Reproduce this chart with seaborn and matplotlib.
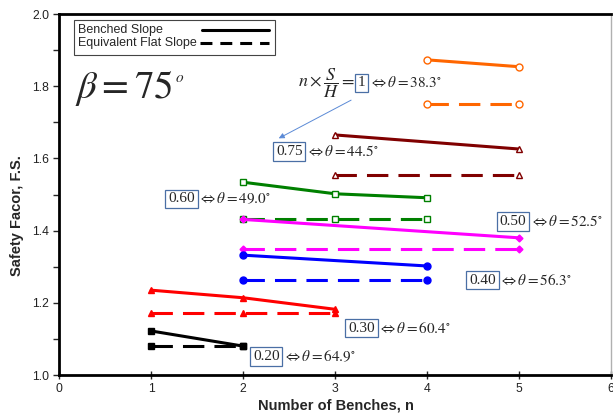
import matplotlib
matplotlib.use("Agg")
import matplotlib.pyplot as plt
from matplotlib.lines import Line2D
from matplotlib.patches import Rectangle
from matplotlib.ticker import MultipleLocator, FormatStrFormatter
import numpy as np
import pandas as pd
import seaborn as sns

# Safety factor vs number of benches, beta = 75 deg
ratios = ["1", "0.75", "0.60", "0.50", "0.40", "0.30", "0.20"]
thetas = ["38.3", "44.5", "49.0", "52.5", "56.3", "60.4", "64.9"]
colors = ["#FF6600", "#800000", "#008000", "#FF00FF", "#0000FF", "#FF0000", "#000000"]
markers = ["o", "^", "s", "D", "o", "^", "s"]
filled = [False, False, False, True, True, True, True]

benched_n = [[4, 5], [3, 5], [2, 3, 4], [2, 5], [2, 4], [1, 2, 3], [1, 2]]
benched_fs = [[1.873, 1.854], [1.665, 1.626], [1.534, 1.502, 1.491],
              [1.431, 1.380], [1.332, 1.302], [1.235, 1.214, 1.182], [1.122, 1.080]]
flat_n = [[4, 5], [3, 5], [2, 3, 4], [2, 5], [2, 4], [1, 2, 3], [1, 2]]
flat_fs = [[1.752, 1.752], [1.554, 1.554], [1.432, 1.432, 1.432],
           [1.348, 1.348], [1.262, 1.262], [1.171, 1.171, 1.171], [1.080, 1.080]]

# label positions (data coords) for the boxed S/H ratios
label_pos = [(3.286, 1.809), (2.501, 1.619), (1.330, 1.488), (4.931, 1.425),
             (4.602, 1.263), (3.287, 1.130), (2.253, 1.051)]

sns.set_style("ticks")
plt.rcParams["font.family"] = ["Liberation Sans", "DejaVu Sans"]
plt.rcParams["mathtext.fontset"] = "stix"

fig = plt.figure(figsize=(6.13, 4.17), dpi=100)
ax = fig.add_axes([0.0965, 0.1007, 0.9005, 0.8657])

for i in range(len(ratios)):
    mfc = colors[i] if filled[i] else "white"
    ms = 3.5 if markers[i] == "D" else 5
    sns.lineplot(x=benched_n[i], y=benched_fs[i], ax=ax, color=colors[i],
                 marker=markers[i], markersize=ms, markerfacecolor=mfc,
                 markeredgecolor=colors[i], markeredgewidth=1.0,
                 linewidth=2.2, linestyle="-", errorbar=None)
    sns.lineplot(x=flat_n[i], y=flat_fs[i], ax=ax, color=colors[i],
                 marker=markers[i], markersize=ms, markerfacecolor=mfc,
                 markeredgecolor=colors[i], markeredgewidth=1.0,
                 linewidth=2.2, dashes=(7, 3.3), errorbar=None)

ax.set_xlim(0, 6)
ax.set_ylim(1.0, 2.0)
ax.xaxis.set_major_locator(MultipleLocator(1))
ax.yaxis.set_major_locator(MultipleLocator(0.2))
ax.yaxis.set_minor_locator(MultipleLocator(0.1))
ax.yaxis.set_major_formatter(FormatStrFormatter("%.1f"))
ax.tick_params(axis="x", direction="inout", length=6, width=1, labelsize=8.8,
               labelcolor="#222222", pad=3)
ax.tick_params(axis="y", which="major", direction="out", length=4, width=1,
               labelsize=8.8, labelcolor="#222222", pad=3)
ax.tick_params(axis="y", which="minor", direction="out", length=4, width=1)
ax.set_xlabel("Number of Benches, n", fontsize=10.5, fontweight="bold")
ax.set_ylabel("Safety Facor, F.S.", fontsize=10.5, fontweight="bold")
ax.xaxis.set_label_coords(0.502, -0.066)
ax.yaxis.set_label_coords(-0.063, 0.443)
for side in ["left", "bottom", "top"]:
    ax.spines[side].set_linewidth(2)
    ax.spines[side].set_color("black")
ax.spines["right"].set_linewidth(1)
ax.spines["right"].set_color("#b0b0b0")

# legend: text on the left, line samples on the right
ta = ax.transAxes
ax.add_patch(Rectangle((0.0268, 0.886), 0.3642, 0.097, transform=ta,
                       fc="white", ec="#444444", lw=0.8, zorder=5))
ax.text(0.035, 0.957, "Benched Slope", transform=ta, fontsize=9,
        ha="left", va="center", zorder=6)
ax.text(0.035, 0.920, "Equivalent Flat Slope", transform=ta, fontsize=9,
        ha="left", va="center", zorder=6)
ax.add_line(Line2D([0.258, 0.380], [0.957, 0.957], transform=ta, color="black",
                   lw=2.2, zorder=6))
ax.add_line(Line2D([0.255, 0.380], [0.920, 0.920], transform=ta, color="black",
                   lw=2.2, dashes=(3.9, 2.6), zorder=6))

ax.text(0.171, 1.795, r"$\beta = \mathit{75}$", fontsize=28, ha="left", va="center")
ax.text(1.31, 1.822, r"$o$", fontsize=11, ha="center", va="center")

box_style = dict(boxstyle="square,pad=0.18", fc="white", ec="#4a6fa5", lw=0.9)
for i, (lab, th) in enumerate(zip(ratios, thetas)):
    x, y = label_pos[i]
    t = ax.text(x, y, lab, fontsize=11, family="Liberation Serif",
                ha="center", va="center", bbox=box_style)
    ax.annotate(r"$\Leftrightarrow\theta = %s^{\circ}$" % th, xy=(1, 0.5),
                xycoords=t, xytext=(2.5, 0), textcoords="offset points",
                fontsize=11, ha="left", va="center")
    if i == 0:
        ax.annotate(r"$n\times\dfrac{S}{H}=$", xy=(0, 0.5), xycoords=t,
                    xytext=(-2, 0), textcoords="offset points",
                    fontsize=13, ha="right", va="center")

# arrow from the general relation to the 0.75 label
ax.annotate("", xy=(2.36, 1.652), xytext=(3.20, 1.765),
            arrowprops=dict(arrowstyle="-|>", color="#5b8ad6", lw=0.7,
                            mutation_scale=8))

fig.savefig("out.png", dpi=100)
